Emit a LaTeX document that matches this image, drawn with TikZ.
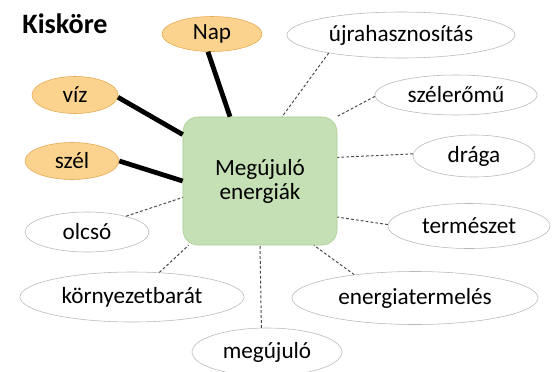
\documentclass[tikz,border=0pt]{standalone}
\usepackage{fontspec}
\setmainfont{Carlito}
\usepackage{tikz}
\usetikzlibrary{shapes}

\definecolor{greenfill}{HTML}{C5E0B4}
\definecolor{greenline}{HTML}{A9CD90}
\definecolor{orangefill}{HTML}{FBD38F}
\definecolor{orangeline}{HTML}{E5A850}
\definecolor{greyline}{HTML}{B8B8B8}
\definecolor{dashline}{HTML}{4A4A4A}

\begin{document}
\begin{tikzpicture}[x=0.025cm,y=-0.025cm,
    txt/.style={font=\fontsize{16.5}{17}\selectfont},
    main/.style={txt,rectangle,rounded corners=0.375cm,draw=greenline,fill=greenfill,
      minimum width=3.85cm,minimum height=3.2cm,align=center},
    src/.style={txt,ellipse,draw=orangeline,fill=orangefill,inner sep=0pt},
    idea/.style={txt,ellipse,draw=greyline,fill=white,inner sep=0pt},
    strong/.style={line width=3.4pt},
    weak/.style={draw=dashline,line width=0.7pt,dash pattern=on 2pt off 1.5pt}]
  \useasboundingbox (0,0) rectangle (554,371);
  \node[font=\fontsize{20}{22}\selectfont\bfseries] at (65,24) (title) {Kisköre};
  \node[main] at (260,181) (box) {Megújuló\\energiák};
  % sources
  \node[src,minimum width=2.5cm,minimum height=0.875cm] at (212,34) (nap) {Nap};
  \node[src,minimum width=2.15cm,minimum height=0.925cm] at (75,95) (viz) {víz};
  \node[src,minimum width=2.35cm,minimum height=0.925cm] at (72,161) (szel) {szél};
  % associations
  \node[idea,minimum width=5.7cm,minimum height=1.15cm] at (401,35) (ujra) {újrahasznosítás};
  \node[idea,minimum width=4.05cm,minimum height=1.0cm] at (456,95) (szelero) {szélerőmű};
  \node[idea,minimum width=3.05cm,minimum height=1.05cm] at (474,156) (draga) {drága};
  \node[idea,minimum width=4.05cm,minimum height=1.125cm] at (469,226) (termeszet) {természet};
  \node[idea,minimum width=6.15cm,minimum height=1.325cm] at (415,298) (termeles) {energiatermelés};
  \node[idea,minimum width=3.75cm,minimum height=1.2cm] at (267,352) (megujulo) {megújuló};
  \node[idea,minimum width=3.1cm,minimum height=1.0cm] at (87,232) (olcso) {olcsó};
  \node[idea,minimum width=5.6cm,minimum height=1.25cm] at (132,297) (kornyezet) {környezetbarát};
  \draw[strong] (nap.257) -- (box.115);
  \draw[strong] (viz.357) -- (box.149);
  \draw[strong] (szel.east) -- (box.west);
  \draw[weak] (ujra.194) -- (box.71);
  \draw[weak] (szelero.181) -- (box.40);
  \draw[weak] (draga.178) -- (box.17);
  \draw[weak] (termeszet.179) -- (box.335);
  \draw[weak] (termeles.159) -- (box.310);
  \draw[weak] (megujulo.103) -- (box.270);
  \draw[weak] (kornyezet.42) -- (box.222);
  \draw[weak] (olcso.22) -- (box.192);
\end{tikzpicture}
\end{document}
